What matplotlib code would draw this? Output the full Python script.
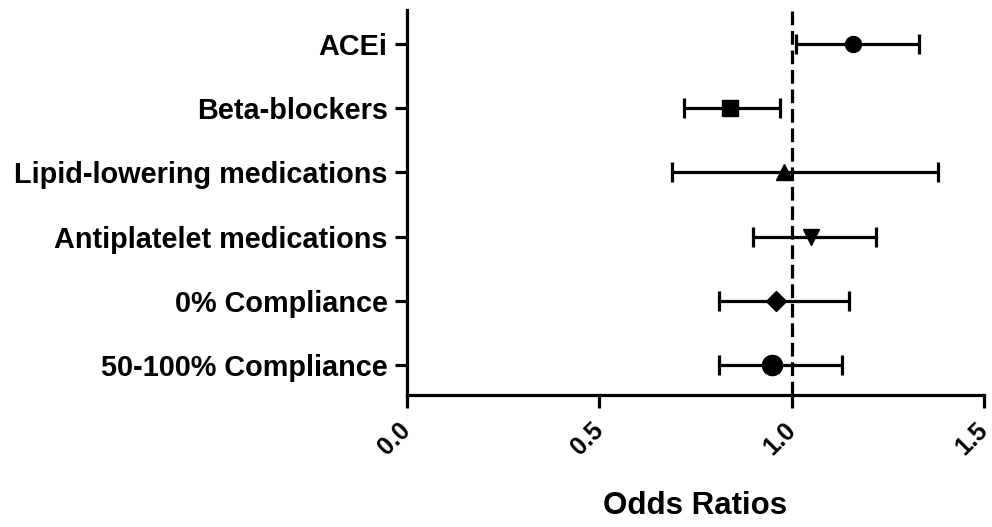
import matplotlib
matplotlib.use("Agg")
import matplotlib.pyplot as plt

plt.rcParams['font.family'] = ['Liberation Sans', 'DejaVu Sans']
plt.rcParams['font.weight'] = 'bold'

categories = ["ACEi", "Beta-blockers", "Lipid-lowering medications",
              "Antiplatelet medications", "0% Compliance", "50-100% Compliance"]
odds_ratio = [1.16, 0.84, 0.98, 1.05, 0.96, 0.95]
ci_low = [1.01, 0.72, 0.69, 0.90, 0.81, 0.81]
ci_high = [1.33, 0.97, 1.38, 1.22, 1.15, 1.13]
markers = ["o", "s", "^", "v", "D", "o"]
marker_sizes = [11.5, 11.5, 11, 11, 10.5, 14.5]
x_ticks = [0.0, 0.5, 1.0, 1.5]
x_tick_labels = ["0.0", "0.5", "1.0", "1.5"]

fig = plt.figure(figsize=(9.92, 5.27), dpi=100)
ax = fig.add_axes([0.4103, 0.2505, 0.5817, 0.7305])

lw = 2.3
ax.axvline(1.0, color="black", lw=lw, linestyle=(0, (4.3, 1.8)), zorder=1)

for i, (m, lo, hi, mk, ms) in enumerate(zip(odds_ratio, ci_low, ci_high, markers, marker_sizes)):
    ax.errorbar([m], [i], xerr=[[m - lo], [hi - m]], fmt=mk, color="black",
                ms=ms, elinewidth=lw, capsize=7.2, capthick=lw, zorder=3)

ax.set_xlim(0, 1.5)
ax.set_ylim(5.47, -0.53)
ax.set_yticks(range(len(categories)))
ax.set_yticklabels(categories, fontsize=20.8, fontweight="bold")
ax.set_xticks(x_ticks)
ax.set_xticklabels(x_tick_labels, fontsize=18, fontweight="bold",
                   rotation=45, ha="right", va="center", rotation_mode="anchor")
ax.set_xlabel("Odds Ratios", fontsize=22.5, fontweight="bold")
ax.xaxis.set_label_coords(0.5, -0.288)
ax.xaxis.label.set_va("center")

for side in ("top", "right"):
    ax.spines[side].set_visible(False)
for side in ("left", "bottom"):
    ax.spines[side].set_linewidth(lw)
ax.tick_params(axis="both", width=lw, length=9, color="black")
ax.tick_params(axis="y", pad=5)
ax.tick_params(axis="x", pad=13.5)

fig.savefig("out.png", dpi=100)
